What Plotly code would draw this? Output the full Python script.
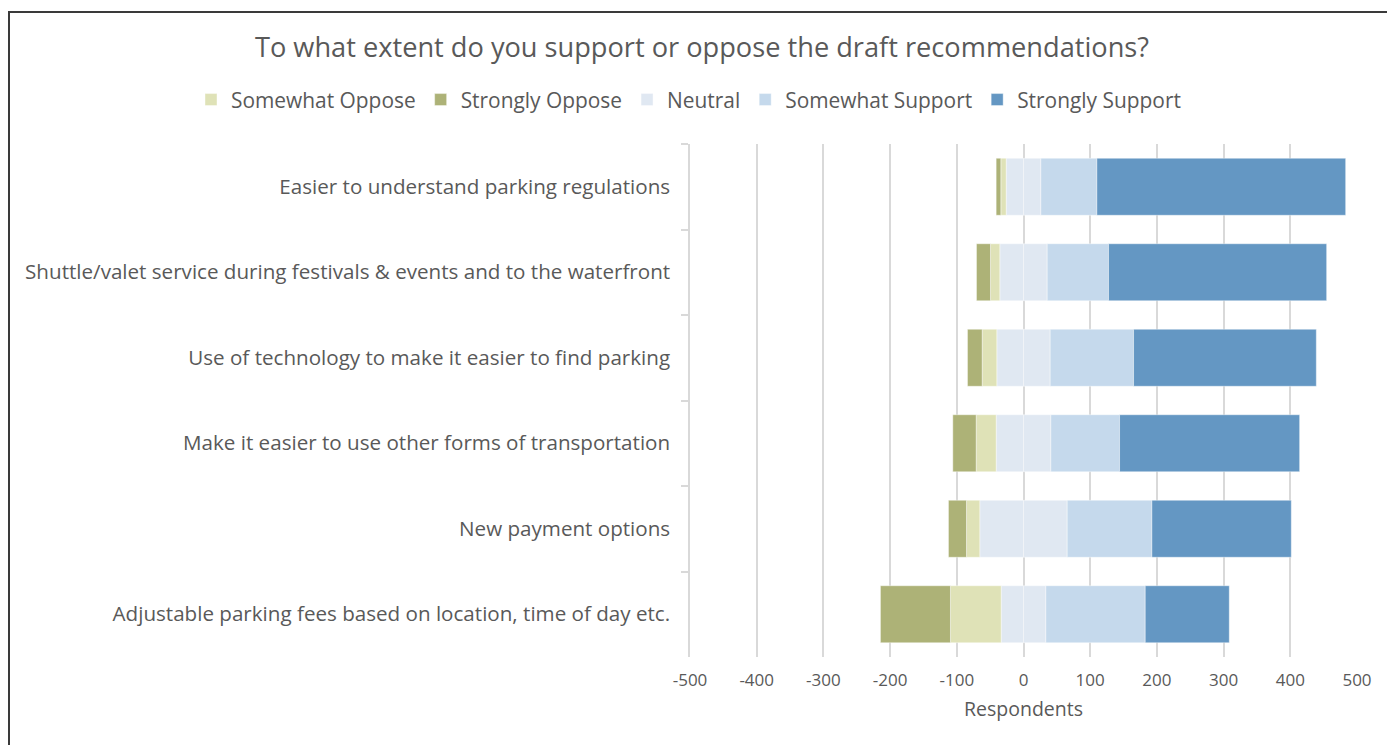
import plotly.graph_objects as go

# Survey responses per draft recommendation
categories = [
    "Easier to understand parking regulations",
    "Shuttle/valet service during festivals & events and to the waterfront",
    "Use of technology to make it easier to find parking",
    "Make it easier to use other forms of transportation",
    "New payment options",
    "Adjustable parking fees based on location, time of day etc.",
]
strongly_oppose = [7, 21, 22, 35, 27, 105]
somewhat_oppose = [8, 14, 22, 30, 20, 76]
neutral = [52, 71, 80, 82, 131, 67]
somewhat_support = [84, 92, 125, 103, 127, 149]
strongly_support = [373, 327, 274, 270, 209, 126]

x_ticks = [-500, -400, -300, -200, -100, 0, 100, 200, 300, 400, 500]

colors = {
    "Somewhat Oppose": "#DFE2B7",
    "Strongly Oppose": "#ADB277",
    "Neutral": "#E0E8F2",
    "Somewhat Support": "#C5D9EC",
    "Strongly Support": "#6497C3",
}

FONT = "Open Sans"
TEXT = "#595959"
GRID = "#D9D9D9"

# plot area in pixels (used to place the legend and frame in paper units)
L, R, T, B = 690, 1357, 144, 657
PW, PH = R - L, B - T

edge = dict(color="rgba(255,255,255,0.7)", width=0.6)

fig = go.Figure()

# Negative side: stacks outward from zero in trace order
fig.add_trace(go.Bar(
    y=categories, x=[-v / 2 for v in neutral], orientation="h",
    name="Neutral", legendgroup="Neutral", showlegend=False,
    marker=dict(color=colors["Neutral"], line=edge),
))
fig.add_trace(go.Bar(
    y=categories, x=[-v for v in somewhat_oppose], orientation="h",
    name="Somewhat Oppose", legendrank=1,
    marker=dict(color=colors["Somewhat Oppose"], line=edge),
))
fig.add_trace(go.Bar(
    y=categories, x=[-v for v in strongly_oppose], orientation="h",
    name="Strongly Oppose", legendrank=2,
    marker=dict(color=colors["Strongly Oppose"], line=edge),
))
# Positive side
fig.add_trace(go.Bar(
    y=categories, x=[v / 2 for v in neutral], orientation="h",
    name="Neutral", legendgroup="Neutral", legendrank=3,
    marker=dict(color=colors["Neutral"], line=edge),
))
fig.add_trace(go.Bar(
    y=categories, x=somewhat_support, orientation="h",
    name="Somewhat Support", legendrank=4,
    marker=dict(color=colors["Somewhat Support"], line=edge),
))
fig.add_trace(go.Bar(
    y=categories, x=strongly_support, orientation="h",
    name="Strongly Support", legendrank=5,
    marker=dict(color=colors["Strongly Support"], line=edge),
))

fig.update_layout(
    width=1387, height=745,
    barmode="relative", bargap=1 / 3,
    plot_bgcolor="white", paper_bgcolor="white",
    font=dict(family=FONT, color=TEXT),
    margin=dict(l=L, r=1387 - R, t=T, b=745 - B, autoexpand=False),
    title=dict(
        text="To what extent do you support or oppose the draft recommendations?",
        x=702 / 1387, xanchor="center", y=1 - 47 / 745, yanchor="middle",
        font=dict(size=27.2, color=TEXT, family=FONT),
    ),
    legend=dict(
        orientation="h", xref="paper", x=(191 - L) / PW, xanchor="left",
        yref="paper", y=(B - 100) / PH, yanchor="middle",
        font=dict(size=20.9, color=TEXT, family=FONT),
        itemwidth=30, tracegroupgap=0,
    ),
    xaxis=dict(
        range=[-500, 500], tickvals=x_ticks,
        ticktext=[str(v) for v in x_ticks],
        showgrid=True, gridcolor=GRID, gridwidth=1.5,
        zeroline=False, showline=False, ticks="",
        ticklabelstandoff=11,
        tickfont=dict(size=17, color=TEXT),
        title=dict(text="Respondents", font=dict(size=19.5, color=TEXT), standoff=12),
        fixedrange=True,
    ),
    yaxis=dict(
        autorange="reversed", categoryorder="array", categoryarray=categories,
        showgrid=False, zeroline=False,
        showline=True, linecolor=GRID, linewidth=1.5,
        ticks="outside", tickson="boundaries", ticklen=7, tickcolor=GRID, tickwidth=1.5,
        ticklabelstandoff=14,
        tickfont=dict(size=20.6, color=TEXT),
        fixedrange=True,
    ),
    shapes=[dict(
        type="rect", xref="paper", yref="paper",
        x0=(9 - L) / PW, x1=(1400 - L) / PW,
        y0=(B - 760) / PH, y1=(B - 12) / PH,
        line=dict(color="#3A3A3A", width=2), fillcolor="rgba(0,0,0,0)", layer="below",
    )],
)

fig.write_html("out.html")
